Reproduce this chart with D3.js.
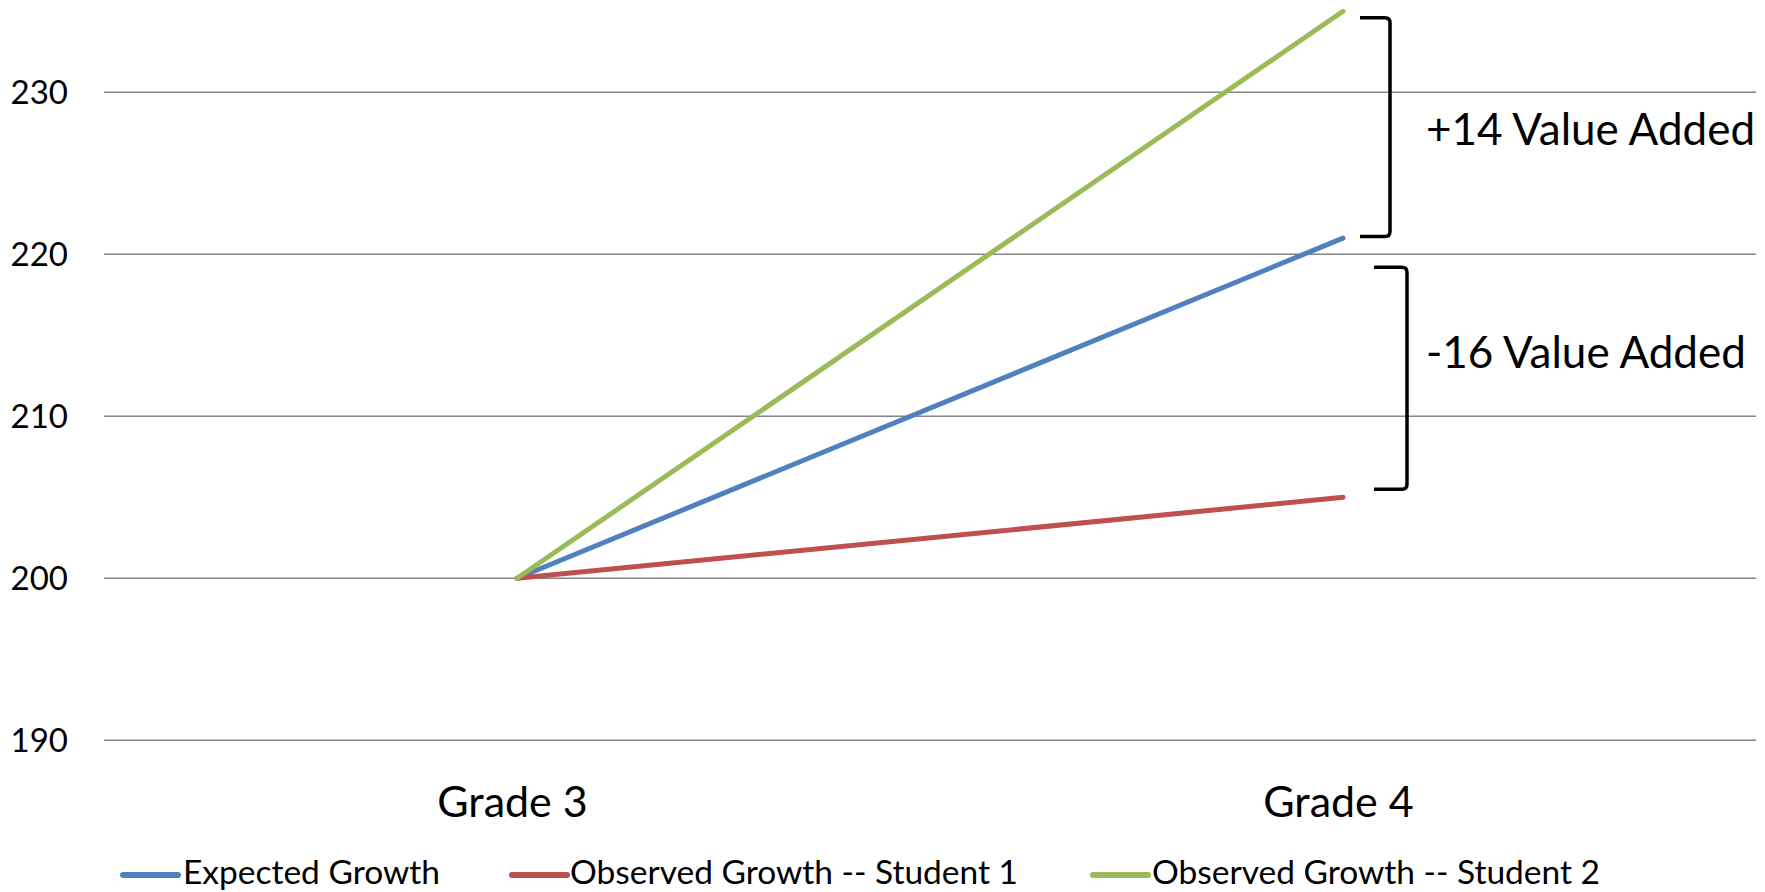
<!DOCTYPE html>
<html>
<head>
<meta charset="utf-8">
<script src="https://cdn.jsdelivr.net/npm/d3@7"></script>
<style>
  html, body { margin: 0; padding: 0; background: #ffffff; }
  svg { display: block; }
  text { font-family: Lato, "Open Sans", sans-serif; fill: #000; }
</style>
</head>
<body>
<svg id="chart" width="1765" height="892"></svg>
<script>
// ---- data ----
const categories = ["Grade 3", "Grade 4"];
const seriesNames = ["Expected Growth", "Observed Growth -- Student 1", "Observed Growth -- Student 2"];
const expectedGrowth = [200, 221];
const student1 = [200, 205];
const student2 = [200, 235];
const yTicks = [190, 200, 210, 220, 230];
const annotationLabels = ["+14 Value Added", "-16 Value Added"];
const annotationFrom = [234.6, 219.2];
const annotationTo = [221.1, 205.5];

const colors = ["#4F81BD", "#C0504D", "#9BBB59"];
const seriesValues = [expectedGrowth, student1, student2];

const svg = d3.select("#chart");

const x = d3.scalePoint().domain(categories).range([104, 1756]).padding(0.5);
const y = d3.scaleLinear().domain([190, 230]).range([740.3, 92.3]);

// gridlines
svg.append("g").selectAll("line").data(yTicks).join("line")
  .attr("x1", 104).attr("x2", 1756)
  .attr("y1", d => y(d)).attr("y2", d => y(d))
  .attr("stroke", "#868686").attr("stroke-width", 1.6);

// y axis labels
const yAxis = d3.axisLeft(y).tickValues(yTicks).tickSize(0).tickPadding(0);
const yg = svg.append("g").attr("transform", "translate(68,0)").call(yAxis);
yg.select(".domain").remove();
yg.selectAll("text").attr("font-size", 33).attr("font-family", "Lato").attr("fill", "#000").attr("dy", "0.35em");

// x axis labels
const xAxis = d3.axisBottom(x).tickSize(0).tickPadding(0);
const xg = svg.append("g").attr("transform", "translate(-5,817)").call(xAxis);
xg.select(".domain").remove();
xg.selectAll("text").attr("font-size", 43).attr("font-family", "Lato").attr("fill", "#000").attr("dy", 0);

// lines
const line = d3.line().x((d, i) => x(categories[i])).y(d => y(d));
svg.append("g").selectAll("path").data(seriesValues).join("path")
  .attr("d", d => line(d))
  .attr("fill", "none")
  .attr("stroke", (d, i) => colors[i])
  .attr("stroke-width", 5)
  .attr("stroke-linecap", "round");

// brackets
const bracketX = [[1360, 1390], [1374, 1407]];
const r = 5;
annotationLabels.forEach((lab, i) => {
  const t = y(annotationFrom[i]), b = y(annotationTo[i]);
  const [x0, x1] = bracketX[i];
  const p = `M${x0},${t} H${x1 - r} Q${x1},${t} ${x1},${t + r} V${b - r} Q${x1},${b} ${x1 - r},${b} H${x0}`;
  svg.append("path").attr("d", p).attr("fill", "none").attr("stroke", "#000").attr("stroke-width", 3.5);
});
const labelBaselines = [145, 368];
svg.append("g").selectAll("text").data(annotationLabels).join("text")
  .attr("x", 1426).attr("y", (d, i) => labelBaselines[i])
  .attr("font-size", 44).text(d => d);

// legend
const legendLineX = [123, 512, 1093];
const legendTextX = [183, 570, 1152];
const lg = svg.append("g");
seriesNames.forEach((name, i) => {
  lg.append("line").attr("x1", legendLineX[i]).attr("x2", legendLineX[i] + 55)
    .attr("y1", 875).attr("y2", 875)
    .attr("stroke", colors[i]).attr("stroke-width", 6).attr("stroke-linecap", "round");
  lg.append("text").attr("x", legendTextX[i]).attr("y", 884)
    .attr("font-size", 33.5).text(name);
});
</script>
</body>
</html>
